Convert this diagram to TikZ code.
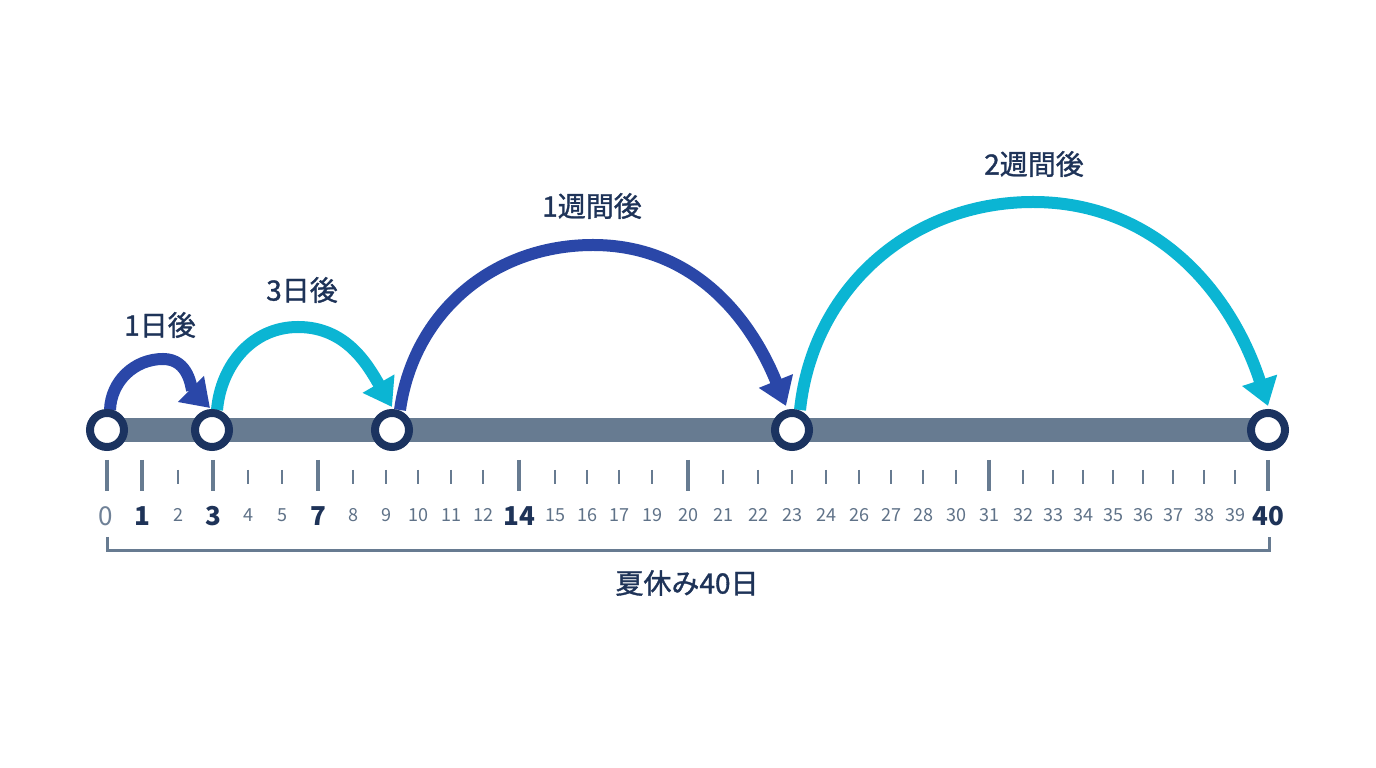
\documentclass[tikz,border=0pt]{standalone}
\usepackage{fontspec}
\setmainfont{Noto Sans CJK JP}
\newfontfamily\medfont[FakeBold=1.2]{Noto Sans CJK JP}
\usetikzlibrary{arrows.meta,calc}
\definecolor{barc}{HTML}{677B91}
\definecolor{ringc}{HTML}{1B3360}
\definecolor{bluec}{HTML}{2A47A8}
\definecolor{cyanc}{HTML}{0BB5D3}
\definecolor{navyc}{HTML}{1E3358}
\definecolor{grayc}{HTML}{5F7288}
\definecolor{zeroc}{HTML}{6F8197}
\tikzset{
  daycirc/.style={circle,draw=ringc,fill=white,line width=8pt,minimum size=34pt,inner sep=0pt},
  jump/.style={line width=12pt,-{Triangle[length=27pt,width=35pt]}},
  jumplabel/.style={text=navyc,font=\medfont\fontsize{28}{32}\selectfont,inner sep=0pt},
  smalltick/.style={draw=barc,line width=2pt},
  bigtick/.style={draw=barc,line width=4.5pt},
  smalllab/.style={text=grayc,font=\fontsize{18}{22}\selectfont,inner sep=0pt},
  biglab/.style={text=navyc,font=\bfseries\fontsize{26}{30}\selectfont,inner sep=0pt},
}
\begin{document}
\begin{tikzpicture}[x=1pt,y=1pt]
\useasboundingbox[fill=white] (0,0) rectangle (1376,768);
% axis bar
\coordinate (a0) at (107,338);
\coordinate (a40) at (1268,338);
\draw[barc,line width=24pt] (a0) -- (a40);
% ticks and labels
\foreach \n/\x in {2/178,4/248,5/282,8/353,9/386,10/418,11/451,12/483,15/555,16/587,17/619,19/652,21/723,22/758,23/792,24/826,26/859,27/891,28/923,30/956,32/1023,33/1053,34/1083,35/1113,36/1143,37/1173,38/1204,39/1235}{
  \coordinate (t\n a) at (\x,298);
  \coordinate (t\n b) at (\x,284);
  \draw[smalltick] (t\n a) -- (t\n b);
  \node[smalllab] (l\n) at (\x,253) {\n};
}
\foreach \n/\x in {0/107,1/142,3/213,7/318,14/519,20/688,31/989,40/1268}{
  \coordinate (t\n a) at (\x,308);
  \coordinate (t\n b) at (\x,277);
  \draw[bigtick] (t\n a) -- (t\n b);
}
\node[smalllab] (l20) at (688,253) {20};
\node[smalllab] (l31) at (989,253) {31};
\foreach \n/\x in {1/142,3/213,7/318,14/519,40/1268}{
  \node[biglab] (l\n) at (\x,252) {\n};
}
\node[text=zeroc,font=\fontsize{26}{30}\selectfont,inner sep=0pt] (l0) at (106,252) {0};
% bracket
\coordinate (b0) at (107,231);
\coordinate (b1) at (107,217);
\coordinate (b2) at (1269,217);
\coordinate (b3) at (1269,231);
\draw[barc,line width=3pt] (b0) -- (b1) -- (b2) -- (b3);
\node[jumplabel] (total) at (687,185) {夏休み40日};
% day circles positions
\coordinate (c0) at (107,338);
\coordinate (c3) at (212,338);
\coordinate (c9) at (392,338);
\coordinate (c23) at (792,338);
\coordinate (c40) at (1268,338);
% peaks
\coordinate (p1) at (163,409);
\coordinate (p2) at (298,441);
\coordinate (p3) at (593,523);
\coordinate (p4) at (1033,566);
% jumps
\draw[jump,bluec] ($(c0)+(3,20)$) to[out=88,in=180] (p1) to[out=0,in=135] ($(c3)+(-2,22)$);
\draw[jump,cyanc] ($(c3)+(5,20)$) to[out=85,in=180] (p2) to[out=0,in=120] ($(c9)+(0,23)$);
\draw[jump,bluec] ($(c9)+(8,20)$) to[out=82,in=180] (p3) to[out=0,in=112] ($(c23)+(-6,24)$);
\draw[jump,cyanc] ($(c23)+(8,20)$) to[out=84,in=180] (p4) to[out=0,in=108] ($(c40)+(0,24)$);
% circles
\foreach \c in {c0,c3,c9,c23,c40}{
  \node[daycirc] (\c n) at (\c) {};
}
% labels
\node[jumplabel] (j1) at (160,443) {1日後};
\node[jumplabel] (j2) at (302,478) {3日後};
\node[jumplabel] (j3) at (592,562) {1週間後};
\node[jumplabel] (j4) at (1034,604) {2週間後};
\end{tikzpicture}
\end{document}
